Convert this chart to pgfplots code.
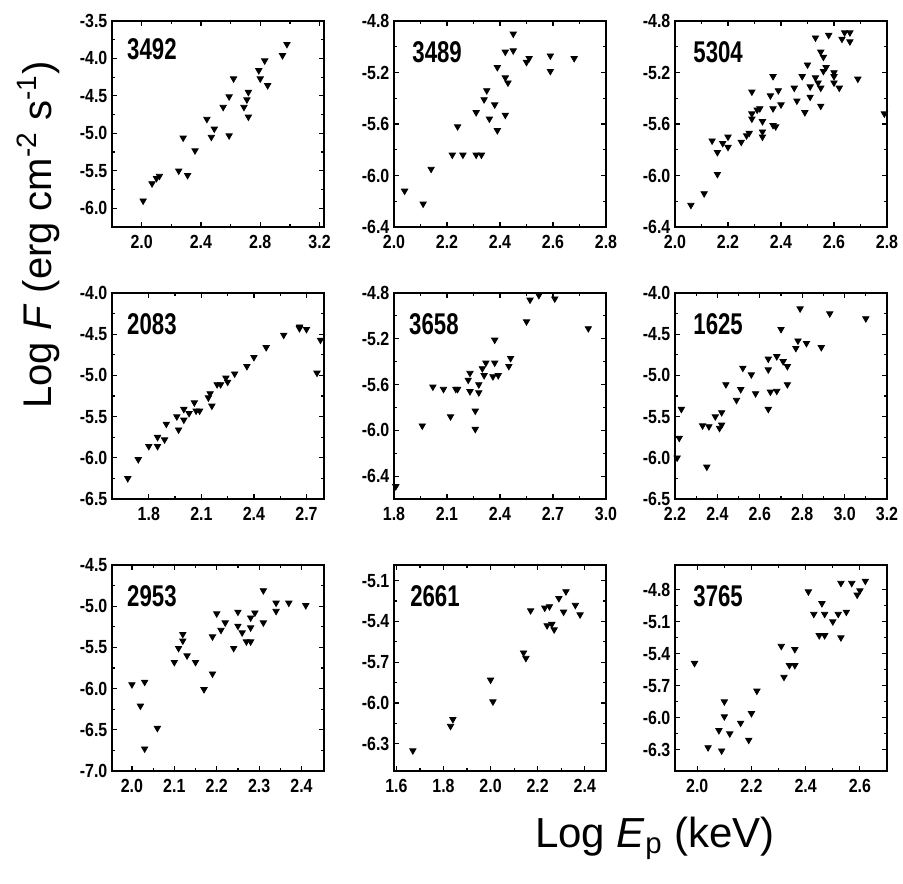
\documentclass[border=0pt]{standalone}
\usepackage{fontspec}
\setmainfont{Liberation Sans}
\newfontfamily\condfont[FakeStretch=0.84]{Liberation Sans}
\newfontfamily\numfont[FakeStretch=0.74]{Liberation Sans}
\usepackage{pgfplots}
\pgfplotsset{compat=1.18}
\pgfplotsset{panel/.style={
  scale only axis, width=106pt, height=103pt, anchor=south west,
  axis line style={line width=0.9pt},
  tick align=inside, major tick length=2.6pt, minor tick length=1.6pt,
  minor tick num=1, tick style={black, line width=0.6pt},
  tick label style={font=\condfont\bfseries\fontsize{9.5}{9.5}\selectfont},
  xticklabel style={yshift=-0.5pt},
  yticklabel style={xshift=1.2pt},
  /pgf/number format/.cd, fixed, fixed zerofill, precision=1, assume math mode=true,
  /pgfplots/.cd,
  clip=false},
  pts/.style={only marks, mark=triangle*, mark size=1.8pt, black,
     mark options={rotate=180, black}}}
\tikzset{plab/.style={anchor=west, inner sep=0pt, font=\numfont\bfseries\fontsize{15}{15}\selectfont}}
\begin{document}
\begin{tikzpicture}
\path[use as bounding box] (0,0) rectangle (451.5pt,441.5pt);
% ---------- row 1 ----------
\begin{axis}[panel, at={(56pt,328pt)}, xmin=1.8, xmax=3.23, ymin=-6.25, ymax=-3.5,
  xtick={2.0,2.4,2.8,3.2}, ytick={-6.0,-5.5,-5.0,-4.5,-4.0,-3.5}]
\addplot[pts] coordinates {(2.01,-5.90)(2.07,-5.67)(2.10,-5.60)(2.12,-5.57)(2.25,-5.50)(2.31,-5.56)
(2.28,-5.06)(2.36,-5.23)(2.44,-4.81)(2.47,-5.05)(2.49,-4.94)(2.55,-4.65)(2.59,-4.51)(2.59,-5.03)
(2.62,-4.27)(2.69,-4.65)(2.71,-4.55)(2.72,-4.45)(2.72,-4.78)(2.79,-4.16)(2.80,-4.27)(2.83,-4.03)
(2.85,-4.36)(2.95,-3.96)(2.98,-3.81)};
\node[plab] at (rel axis cs:0.07,0.865) {3492};
\end{axis}
\begin{axis}[panel, at={(197pt,328pt)}, xmin=2.0, xmax=2.8, ymin=-6.4, ymax=-4.8,
  xtick={2.0,2.2,2.4,2.6,2.8}, ytick={-6.4,-6.0,-5.6,-5.2,-4.8}]
\addplot[pts] coordinates {(2.04,-6.12)(2.11,-6.22)(2.14,-5.95)(2.24,-5.62)(2.22,-5.84)(2.26,-5.84)
(2.31,-5.84)(2.33,-5.84)(2.31,-5.51)(2.34,-5.41)(2.35,-5.34)(2.36,-5.56)(2.38,-5.45)(2.39,-5.65)
(2.39,-5.16)(2.42,-5.53)(2.42,-5.04)(2.42,-5.24)(2.43,-5.28)(2.45,-4.90)(2.45,-5.03)(2.50,-5.12)
(2.51,-5.09)(2.59,-5.19)(2.59,-5.07)(2.68,-5.09)};
\node[plab] at (rel axis cs:0.085,0.85) {3489};
\end{axis}
\begin{axis}[panel, at={(337.5pt,328pt)}, xmin=2.0, xmax=2.8, ymin=-6.4, ymax=-4.8,
  xtick={2.0,2.2,2.4,2.6,2.8}, ytick={-6.4,-6.0,-5.6,-5.2,-4.8}]
\addplot[pts] coordinates {(2.06,-6.23)(2.11,-6.14)(2.16,-5.99)(2.14,-5.73)(2.16,-5.82)(2.18,-5.75)
(2.20,-5.70)(2.20,-5.78)(2.25,-5.74)(2.27,-5.69)(2.28,-5.67)(2.29,-5.35)(2.29,-5.56)(2.29,-5.52)
(2.31,-5.49)(2.32,-5.48)(2.33,-5.58)(2.33,-5.66)(2.33,-5.70)(2.36,-5.38)(2.37,-5.48)(2.37,-5.61)
(2.37,-5.23)(2.38,-5.62)(2.39,-5.34)(2.40,-5.45)(2.45,-5.32)(2.46,-5.42)(2.48,-5.23)(2.49,-5.51)
(2.50,-5.14)(2.51,-5.31)(2.51,-5.39)(2.53,-4.93)(2.53,-5.24)(2.54,-5.28)(2.55,-5.32)(2.55,-5.46)
(2.55,-5.04)(2.56,-5.08)(2.56,-5.19)(2.57,-5.16)(2.58,-4.91)(2.60,-5.20)(2.60,-5.23)(2.60,-5.28)
(2.62,-5.32)(2.63,-4.94)(2.64,-4.89)(2.66,-4.89)(2.66,-4.96)(2.69,-5.25)(2.79,-5.52)};
\node[plab] at (rel axis cs:0.085,0.85) {5304};
\end{axis}
% ---------- row 2 ----------
\begin{axis}[panel, at={(56pt,192pt)}, xmin=1.59, xmax=2.80, ymin=-6.5, ymax=-4.0,
  xtick={1.8,2.1,2.4,2.7}, ytick={-6.5,-6.0,-5.5,-5.0,-4.5,-4.0}]
\addplot[pts] coordinates {(1.68,-6.25)(1.74,-6.02)(1.80,-5.86)(1.85,-5.75)(1.85,-5.86)(1.89,-5.78)
(1.90,-5.59)(1.96,-5.50)(1.97,-5.66)(2.00,-5.41)(2.00,-5.54)(2.03,-5.46)(2.06,-5.33)(2.07,-5.43)
(2.09,-5.43)(2.14,-5.27)(2.15,-5.22)(2.16,-5.37)(2.19,-5.11)(2.21,-5.11)(2.24,-5.03)(2.25,-5.08)
(2.29,-4.98)(2.36,-4.89)(2.40,-4.78)(2.47,-4.66)(2.57,-4.51)(2.66,-4.41)(2.66,-4.43)(2.70,-4.44)
(2.76,-4.97)(2.78,-4.57)};
\node[plab] at (rel axis cs:0.07,0.85) {2083};
\end{axis}
\begin{axis}[panel, at={(197pt,192pt)}, xmin=1.8, xmax=3.0, ymin=-6.6, ymax=-4.8,
  xtick={1.8,2.1,2.4,2.7,3.0}, ytick={-6.4,-6.0,-5.6,-5.2,-4.8}]
\addplot[pts] coordinates {(1.81,-6.49)(1.96,-5.96)(2.02,-5.62)(2.08,-5.64)(2.15,-5.64)(2.16,-5.64)
(2.12,-5.88)(2.22,-5.56)(2.23,-5.50)(2.23,-5.66)(2.26,-5.83)(2.26,-5.99)(2.28,-5.60)(2.28,-5.67)
(2.30,-5.46)(2.31,-5.52)(2.32,-5.41)(2.36,-5.53)(2.39,-5.52)(2.37,-5.21)(2.37,-5.41)(2.45,-5.44)
(2.46,-5.37)(2.55,-5.05)(2.57,-4.86)(2.62,-4.82)(2.71,-4.85)(2.90,-5.11)};
\node[plab] at (rel axis cs:0.07,0.85) {3658};
\end{axis}
\begin{axis}[panel, at={(337.5pt,192pt)}, xmin=2.2, xmax=3.2, ymin=-6.5, ymax=-4.0,
  xtick={2.2,2.4,2.6,2.8,3.0,3.2}, ytick={-6.5,-6.0,-5.5,-5.0,-4.5,-4.0}]
\addplot[pts] coordinates {(2.21,-6.00)(2.22,-5.76)(2.23,-5.41)(2.33,-5.61)(2.35,-6.11)(2.36,-5.62)
(2.39,-5.50)(2.41,-5.64)(2.42,-5.60)(2.42,-5.45)(2.44,-5.11)(2.49,-5.30)(2.51,-5.17)(2.52,-4.91)
(2.56,-4.99)(2.58,-5.22)(2.64,-5.41)(2.64,-4.80)(2.64,-4.93)(2.65,-5.20)(2.68,-5.19)(2.68,-4.77)
(2.70,-4.44)(2.71,-4.83)(2.73,-4.89)(2.73,-5.11)(2.77,-4.67)(2.78,-4.58)(2.79,-4.19)(2.82,-4.61)
(2.89,-4.66)(2.93,-4.25)(3.10,-4.31)};
\node[plab] at (rel axis cs:0.085,0.85) {1625};
\end{axis}
% ---------- row 3 ----------
\begin{axis}[panel, at={(56pt,56pt)}, xmin=1.953, xmax=2.453, ymin=-7.0, ymax=-4.5,
  xtick={2.0,2.1,2.2,2.3,2.4}, ytick={-7.0,-6.5,-6.0,-5.5,-5.0,-4.5}]
\addplot[pts] coordinates {(2.00,-5.95)(2.02,-6.21)(2.03,-5.92)(2.03,-6.73)(2.06,-6.48)(2.10,-5.68)
(2.11,-5.51)(2.12,-5.42)(2.12,-5.34)(2.13,-5.60)(2.15,-5.68)(2.17,-6.01)(2.19,-5.82)(2.19,-5.37)
(2.20,-5.09)(2.21,-5.29)(2.22,-5.20)(2.24,-5.51)(2.25,-5.24)(2.25,-5.07)(2.26,-5.32)(2.27,-5.43)
(2.28,-5.43)(2.28,-5.14)(2.28,-5.26)(2.29,-5.08)(2.31,-4.81)(2.31,-5.20)(2.34,-4.96)(2.34,-5.06)
(2.37,-4.96)(2.41,-4.99)};
\node[plab] at (rel axis cs:0.07,0.85) {2953};
\end{axis}
\begin{axis}[panel, at={(197pt,56pt)}, xmin=1.59, xmax=2.49, ymin=-6.5, ymax=-4.985,
  xtick={1.6,1.8,2.0,2.2,2.4}, ytick={-6.3,-6.0,-5.7,-5.4,-5.1}]
\addplot[pts] coordinates {(1.67,-6.35)(1.83,-6.17)(1.84,-6.12)(2.00,-5.83)(2.01,-5.99)(2.14,-5.63)
(2.15,-5.67)(2.17,-5.32)(2.23,-5.30)(2.25,-5.29)(2.24,-5.43)(2.26,-5.42)(2.27,-5.46)(2.29,-5.23)
(2.31,-5.33)(2.32,-5.18)(2.36,-5.28)(2.38,-5.35)};
\node[plab] at (rel axis cs:0.075,0.85) {2661};
\end{axis}
\begin{axis}[panel, at={(337.5pt,56pt)}, xmin=1.918, xmax=2.70, ymin=-6.5, ymax=-4.57,
  xtick={2.0,2.2,2.4,2.6}, ytick={-6.3,-6.0,-5.7,-5.4,-5.1,-4.8}]
\addplot[pts] coordinates {(1.99,-5.49)(2.04,-6.28)(2.08,-6.12)(2.09,-6.31)(2.10,-5.99)(2.10,-5.85)
(2.12,-6.15)(2.16,-6.05)(2.19,-6.21)(2.20,-5.96)(2.22,-5.75)(2.31,-5.33)(2.32,-5.62)(2.34,-5.51)
(2.36,-5.51)(2.36,-5.36)(2.41,-4.82)(2.43,-5.03)(2.45,-5.23)(2.47,-5.23)(2.46,-4.93)(2.47,-5.03)
(2.50,-5.10)(2.52,-5.03)(2.53,-5.25)(2.53,-4.74)(2.55,-5.01)(2.57,-4.74)(2.59,-4.85)(2.60,-4.81)
(2.62,-4.72)};
\node[plab] at (rel axis cs:0.085,0.85) {3765};
\end{axis}
% ---------- axis titles ----------
\node[rotate=90, font=\fontsize{20}{20}\selectfont] at (19pt,324pt)
  {Log \textit{F} (erg cm\textsuperscript{-2} s\textsuperscript{-1})};
\node[anchor=base, font=\fontsize{21}{21}\selectfont] at (327.5pt,18pt)
  {Log \textit{E}\textsubscript{p} (keV)};
\end{tikzpicture}
\end{document}
